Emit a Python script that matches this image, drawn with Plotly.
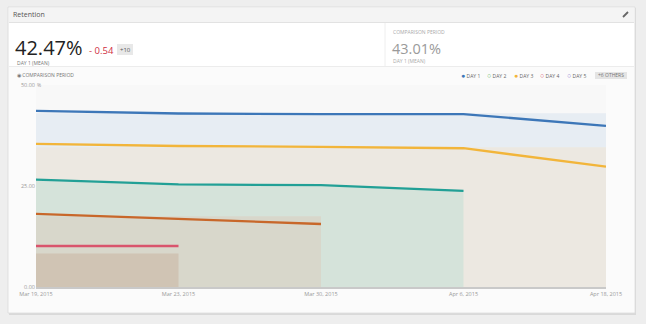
import plotly.graph_objects as go

# ---- data ----
categories = ["Mar 19, 2015", "Mar 23, 2015", "Mar 30, 2015", "Apr 6, 2015", "Apr 18, 2015"]
series_names = ["Day 1", "Day 2", "Day 3", "Day 4", "Day 5"]
day1 = [43.6, 42.95, 42.8, 42.8, 39.9]
day2 = [35.45, 34.9, 34.7, 34.35, 29.8]
day3 = [26.6, 25.4, 25.2, 23.8]
day4 = [18.1, 16.9, 15.6]
day5 = [10.15, 10.15]
# comparison period (shaded areas)
comp1 = [43.0, 43.0, 43.0, 43.0, 43.0]
comp2 = [34.6, 34.6, 34.6, 34.6, 34.6]
comp3 = [26.3, 25.2, 24.9, 23.9]
comp4 = [17.5, 17.5, 17.5]
comp5 = [8.3, 8.3]
y_tickvals = [0, 25, 50]
y_ticktext = ["0.00", "25.00", "50.00"]

line_colors = ["#3d77b8", "#f2b53a", "#22a096", "#c8672a", "#d9546d"]
fill_colors = ["#e7edf3", "#ece8e1", "#d5e3da", "#d8d7cb", "#d0c4b4"]

W, H = 646, 324
L, R, T, B = 36, 606, 85, 287
PW, PH = R - L, B - T


def px(x):
    return (x - L) / PW


def py(y):
    return (B - y) / PH


fig = go.Figure()

comps = [comp1, comp2, comp3, comp4, comp5]
for name, vals, fc in zip(series_names, comps, fill_colors):
    fig.add_trace(go.Scatter(
        x=categories[:len(vals)], y=vals, mode="lines", fill="tozeroy",
        fillcolor=fc, line=dict(width=0, color=fc), name=name + " (comparison)",
        hoverinfo="skip", showlegend=False))

for name, vals, lc in zip(series_names, [day1, day2, day3, day4, day5], line_colors):
    fig.add_trace(go.Scatter(
        x=categories[:len(vals)], y=vals, mode="lines", name=name,
        line=dict(width=2.3, color=lc), showlegend=False))

shapes = []


def rect(x0, y0, x1, y1, fill, line=None, lw=0):
    shapes.append(dict(type="rect", xref="paper", yref="paper",
                       x0=px(x0), x1=px(x1), y0=py(y1), y1=py(y0),
                       fillcolor=fill, line=dict(width=lw, color=line or fill),
                       layer="below"))


def hline(x0, x1, y, color, w=1):
    shapes.append(dict(type="line", xref="paper", yref="paper",
                       x0=px(x0), x1=px(x1), y0=py(y), y1=py(y),
                       line=dict(width=w, color=color), layer="below"))


def vline(x, y0, y1, color, w=1):
    shapes.append(dict(type="line", xref="paper", yref="paper",
                       x0=px(x), x1=px(x), y0=py(y0), y1=py(y1),
                       line=dict(width=w, color=color), layer="below"))


# card shadow + card
rect(9, 8, 636, 315, "#d9d9d9")
rect(8, 7, 635, 313, "#ffffff", "#dedede", 1)
# title bar
rect(9, 8, 634, 22, "#f4f4f4")
hline(9, 634, 22.5, "#e2e2e2")
# chart section
rect(9, 67, 634, 312, "#fbfbfb")
hline(9, 634, 66.5, "#ececec")
vline(385, 23, 66, "#eeeeee")
# plot top area
rect(L, T, R, B, "#f8f8f8")
# badges
rect(117, 44, 133, 55, "#e8e8e8")
rect(595, 72, 627, 79, "#e4e4e4")
# expand icon
shapes.append(dict(type="line", xref="paper", yref="paper",
                   x0=px(623), x1=px(628), y0=py(17), y1=py(12),
                   line=dict(width=1.8, color="#666666")))

ann = []


def text(x, y, s, size, color, xanchor="left", family="Open Sans"):
    ann.append(dict(x=px(x), y=py(y), xref="paper", yref="paper", text=s,
                    showarrow=False, xanchor=xanchor, yanchor="middle",
                    borderpad=0,
                    font=dict(size=size, color=color, family=family)))


text(12, 15, "Retention", 7, "#555555")
text(14, 47, "42.47%", 20, "#222222")
text(88, 50.5, "- 0.54", 9.5, "#d0303f")
text(125, 49.5, "+10", 6, "#555555", "center")
text(16, 63.5, "DAY 1 (MEAN)", 5, "#777777")
text(392, 32, "COMPARISON PERIOD", 5, "#aaaaaa")
text(391, 48.5, "43.01%", 14.5, "#9a9a9a")
text(392, 61.5, "DAY 1 (MEAN)", 5, "#aaaaaa")
text(16, 75.5, "◉ COMPARISON PERIOD", 5, "#777777")
text(36, 85, "%", 5, "#999999")

legend_items = [("●", "#3d77b8", "DAY 1", 460), ("○", "#5fb85f", "DAY 2", 486),
                ("●", "#f2b53a", "DAY 3", 513), ("○", "#d9546d", "DAY 4", 539),
                ("○", "#8d7ad0", "DAY 5", 566)]
for sym, col, lab, x in legend_items:
    text(x, 75.5, f'<span style="color:{col};font-size:7px">{sym}</span> {lab}', 5, "#666666")
text(611, 75.5, "+6 OTHERS", 5, "#777777", "center")

fig.update_layout(
    width=W, height=H,
    margin=dict(l=L, r=W - R, t=T, b=H - B, pad=0),
    paper_bgcolor="#eeeeee",
    plot_bgcolor="rgba(0,0,0,0)",
    shapes=shapes,
    annotations=ann,
    showlegend=False,
    font=dict(family="Open Sans"),
    xaxis=dict(type="category", categoryorder="array", categoryarray=categories,
               range=[0, 4], showgrid=False, zeroline=False, showline=True,
               linecolor="#c9c9c9", linewidth=2, ticks="",
               tickfont=dict(size=5.5, color="#999999"), fixedrange=True),
    yaxis=dict(range=[0, 50], tickvals=y_tickvals, ticktext=y_ticktext,
               showgrid=False, zeroline=False, showline=False, ticks="",
               tickfont=dict(size=5.5, color="#999999"), fixedrange=True),
)

fig.write_html("out.html")
